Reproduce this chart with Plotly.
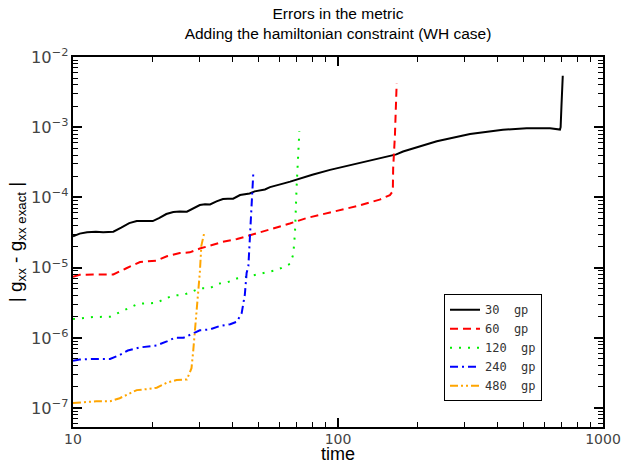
import plotly.graph_objects as go

# time values and |g_xx - g_xx exact|
t30 = [10, 10.6, 11.3, 12.2, 13.0, 14.2, 15.2, 16.3, 17.4, 18.7, 20.0, 21.2, 22.5, 23.9, 25.3, 26.9,
       28.4, 30.1, 31.5, 32.9, 34.8, 36.8, 38.4, 40.2, 42.7, 44.5, 46.4, 48.5, 51, 53, 55.4, 58, 60.4,
       63, 66, 69.8, 80, 93.3, 110, 132, 166, 176, 236, 315, 419, 515, 631, 688, 692, 697, 705]
e30 = [2.8e-5, 3.05e-5, 3.2e-5, 3.25e-5, 3.2e-5, 3.25e-5, 3.7e-5, 4.3e-5, 4.6e-5, 4.65e-5, 4.6e-5,
       5.1e-5, 5.8e-5, 6.2e-5, 6.3e-5, 6.25e-5, 6.9e-5, 7.8e-5, 8.0e-5, 7.95e-5, 8.8e-5, 9.5e-5,
       9.6e-5, 9.6e-5, 1.08e-4, 1.12e-4, 1.14e-4, 1.22e-4, 1.28e-4, 1.3e-4, 1.4e-4, 1.48e-4, 1.52e-4,
       1.6e-4, 1.68e-4, 1.78e-4, 2.1e-4, 2.47e-4, 2.85e-4, 3.3e-4, 4.1e-4, 4.5e-4, 6.3e-4, 8.0e-4,
       9.2e-4, 9.7e-4, 9.7e-4, 9.25e-4, 1.0e-3, 2.0e-3, 5.4e-3]

t60 = [10, 10.6, 11.9, 14.2, 15.9, 17.9, 20.7, 22.6, 25.3, 27.6, 30.1, 32.9, 36.8, 41.6, 46.6, 56.8,
       65.8, 76.3, 93.3, 117.6, 143.6, 157, 161, 161.5, 164, 166.5]
e60 = [7.4e-6, 7.9e-6, 8.0e-6, 8.0e-6, 9.8e-6, 1.2e-5, 1.26e-5, 1.45e-5, 1.61e-5, 1.65e-5, 1.87e-5,
       2.04e-5, 2.33e-5, 2.55e-5, 2.87e-5, 3.6e-5, 4.25e-5, 5.1e-5, 6.1e-5, 7.5e-5, 9.3e-5, 1.08e-4,
       1.23e-4, 2.6e-4, 7.7e-4, 4.2e-3]

t120 = [10, 10.9, 11.9, 13.8, 15.0, 16.1, 17.6, 20.7, 22.2, 23.9, 26.1, 28.0, 30.1, 32.9, 35.3, 38.0,
        41.5, 45.2, 48.6, 52.3, 57.0, 61.3, 65.9, 67.8, 68.8, 69.8, 70.8, 71.5]
e120 = [1.85e-6, 1.93e-6, 1.98e-6, 2.0e-6, 2.3e-6, 2.65e-6, 3.05e-6, 3.15e-6, 3.6e-6, 4.0e-6, 4.1e-6,
        4.5e-6, 5.1e-6, 5.1e-6, 5.9e-6, 6.1e-6, 7.0e-6, 7.4e-6, 7.9e-6, 8.4e-6, 9.0e-6, 9.9e-6,
        1.13e-5, 1.54e-5, 3.1e-5, 1.43e-4, 4.2e-4, 8.8e-4]

t240 = [10, 10.6, 11.9, 13.8, 15.0, 16.1, 17.9, 20.7, 22.6, 24.2, 26.1, 27.6, 30.1, 32.9, 35.9, 39.2,
        41.5, 43.3, 44.5, 45.2, 45.9, 46.6, 47.2, 47.9]
e240 = [4.7e-7, 4.9e-7, 5.0e-7, 5.0e-7, 5.7e-7, 6.6e-7, 7.3e-7, 7.8e-7, 8.9e-7, 1.0e-6, 1.0e-6,
        1.1e-6, 1.28e-6, 1.32e-6, 1.48e-6, 1.56e-6, 1.7e-6, 2.25e-6, 4.1e-6, 8.4e-6, 1.05e-5, 3.1e-5,
        8.4e-5, 2.2e-4]

t480 = [10, 10.9, 12.25, 13.8, 15.0, 16.4, 17.4, 19.0, 20.7, 22.6, 24.6, 26.9, 27.6, 28.0, 28.4,
        29.3, 30.1, 30.5, 31.2]
e480 = [1.18e-7, 1.22e-7, 1.25e-7, 1.25e-7, 1.38e-7, 1.62e-7, 1.8e-7, 1.86e-7, 1.95e-7, 2.3e-7,
        2.5e-7, 2.55e-7, 3.4e-7, 3.7e-7, 6.3e-7, 2.3e-6, 8.5e-6, 2.04e-5, 3.0e-5]

names = ["30  gp", "60  gp", "120  gp", "240  gp", "480  gp"]
colors = ["#000000", "#ff0000", "#00ee00", "#0000ff", "#ffa500"]
dashes = ["solid", "8px,5px", "2px,7px", "8px,4px,2px,4px", "8px,3px,2px,3px,2px,3px"]

fig = go.Figure()
for t, e, name, c, d in zip([t30, t60, t120, t240, t480], [e30, e60, e120, e240, e480],
                            names, colors, dashes):
    fig.add_trace(go.Scatter(x=t, y=e, mode="lines", name=name,
                             line=dict(color=c, width=2, dash=d)))

axis_common = dict(
    type="log", showgrid=False, zeroline=False, showline=True, linecolor="black", linewidth=2,
    mirror="allticks", ticks="inside", ticklen=9, tickwidth=1.5, tickcolor="black",
    dtick=1, automargin=False,
    minor=dict(ticks="inside", ticklen=5, tickwidth=1, tickcolor="black", dtick="D1", showgrid=False),
)

fig.update_xaxes(range=[1, 3], exponentformat="none", ticklabelstandoff=-2,
                 tickfont=dict(family="DejaVu Sans", size=14, color="#444"),
                 title=dict(text="time", font=dict(family="Liberation Sans", size=18, color="black"),
                            standoff=9), **axis_common)
fig.update_yaxes(range=[-7.27, -2], exponentformat="power",
                 tickfont=dict(family="DejaVu Sans", size=13, color="#444"),
                 title=dict(text="| g<sub>xx</sub> - g<sub>xx exact</sub> |",
                            font=dict(family="Liberation Sans", size=19, color="black"), standoff=3),
                 **axis_common)

fig.update_layout(
    width=621, height=464,
    margin=dict(l=73, r=18, t=57, b=37),
    paper_bgcolor="white", plot_bgcolor="white",
    title=dict(text="Errors in the metric<br>Adding the hamiltonian constraint (WH case)",
               x=0.5, xref="paper", y=0.96, yanchor="top",
               font=dict(family="Liberation Sans", size=15.5, color="black")),
    legend=dict(x=0.70, y=0.359, xanchor="left", yanchor="top", bgcolor="white",
                bordercolor="black", borderwidth=1, itemwidth=30, tracegroupgap=0,
                font=dict(family="DejaVu Sans Mono", size=12, color="#333")),
    showlegend=True,
)

# drop the default page margin so the figure fills the window exactly
fig.write_html("out.html", config={"displayModeBar": False},
               post_script="document.body.style.margin='0';")
